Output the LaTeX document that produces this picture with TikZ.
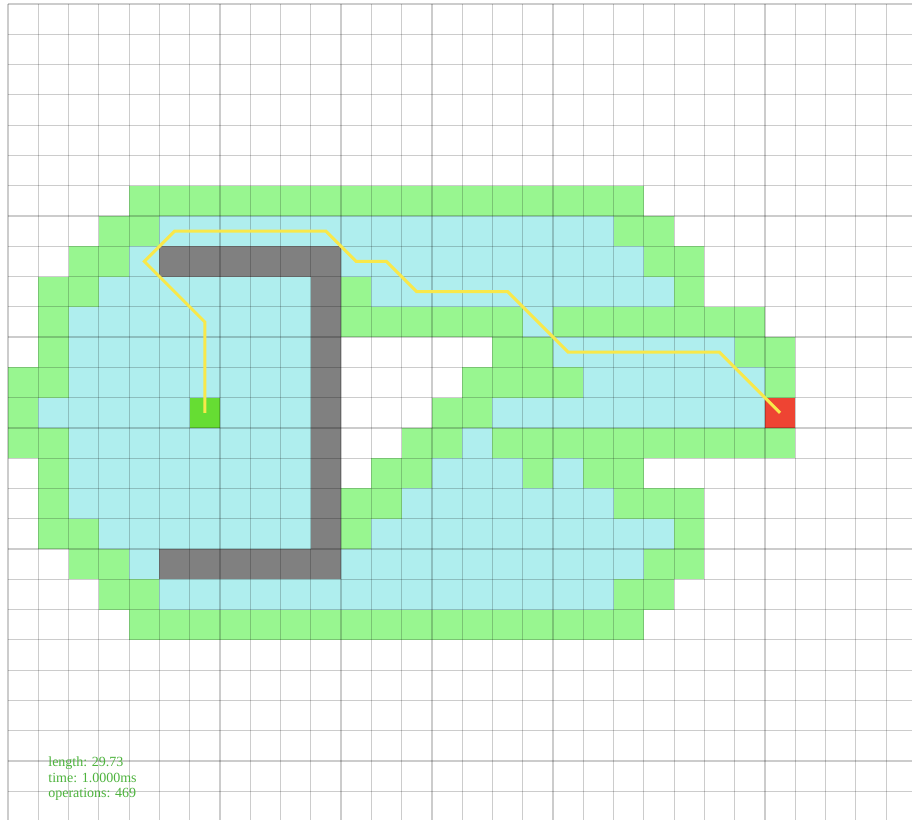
\documentclass[tikz,border=0pt]{standalone}
\usepackage{fontspec}
\setmainfont{Liberation Serif}
\definecolor{visited}{HTML}{98F690}
\definecolor{frontier}{HTML}{AFEEEE}
\definecolor{wall}{HTML}{808080}
\definecolor{startc}{HTML}{66DD33}
\definecolor{endc}{HTML}{EE4433}
\definecolor{pathc}{HTML}{F8E84A}
\definecolor{infoc}{HTML}{4DB33D}
\tikzset{
  opencell/.style={fill=visited},
  closedcell/.style={fill=frontier},
  wallcell/.style={fill=wall},
  gridlines/.style={draw=black, draw opacity=0.2, line width=0.6pt},
  route/.style={draw=pathc, line width=1.5pt, line join=miter},
  info/.style={text=infoc, font=\fontsize{7pt}{8pt}\selectfont, anchor=base west, inner sep=0pt}
}
\begin{document}
\begin{tikzpicture}[x=15.14pt, y=-15.14pt]
\useasboundingbox (-0.2642,-0.1321) rectangle (29.855,26.949);
\fill[white] (-0.2642,-0.1321) rectangle (29.855,26.949);
% green (open set) runs: row/from/to
\foreach \r/\a/\b in {6/4/20, 7/3/4, 7/20/21, 8/2/3, 8/21/22, 9/1/2, 9/11/11, 9/22/22,
  10/1/1, 10/11/16, 10/18/24, 11/1/1, 11/16/17, 11/24/25, 12/0/1, 12/15/18, 12/25/25,
  13/0/0, 13/14/15, 14/0/1, 14/13/14, 14/16/25, 15/1/1, 15/12/13, 15/17/17, 15/19/20,
  16/1/1, 16/11/12, 16/20/22, 17/1/2, 17/11/11, 17/22/22, 18/2/3, 18/21/22,
  19/3/4, 19/20/21, 20/4/20}
  \path[opencell] (\a,\r) rectangle (\b+1,\r+1);
% cyan (closed set) runs
\foreach \r/\a/\b in {7/5/19, 8/4/4, 8/11/20, 9/3/9, 9/12/21, 10/2/9, 10/17/17,
  11/2/9, 11/18/23, 12/2/9, 12/19/24, 13/1/5, 13/7/9, 13/16/24, 14/2/9, 14/15/15,
  15/2/9, 15/14/16, 15/18/18, 16/2/9, 16/13/19, 17/3/9, 17/12/21, 18/4/4, 18/11/20, 19/5/19}
  \path[closedcell] (\a,\r) rectangle (\b+1,\r+1);
% walls
\path[wallcell] (5,8) rectangle (11,9);
\path[wallcell] (10,9) rectangle (11,18);
\path[wallcell] (5,18) rectangle (11,19);
% start and end
\path[fill=startc] (6,13) rectangle (7,14);
\path[fill=endc] (25,13) rectangle (26,14);
% grid
\foreach \i in {0,...,29} \draw[gridlines] (\i,0) -- (\i,26.949);
\foreach \j in {0,...,26} \draw[gridlines] (0,\j) -- (29.855,\j);
% path
\coordinate (s) at (6.5,13.5);
\coordinate (e) at (25.5,13.5);
\draw[route] (s) -- (6.5,10.5) -- (4.5,8.5) -- (5.5,7.5) -- (10.5,7.5) -- (11.5,8.5)
  -- (12.5,8.5) -- (13.5,9.5) -- (16.5,9.5) -- (18.5,11.5) -- (23.5,11.5) -- (e);
% info
\node[info] (len) at (1.32,25.17) {length: 29.73};
\node[info] (tim) at (1.32,25.71) {time: 1.0000ms};
\node[info] (ops) at (1.32,26.22) {operations: 469};
\end{tikzpicture}
\end{document}
